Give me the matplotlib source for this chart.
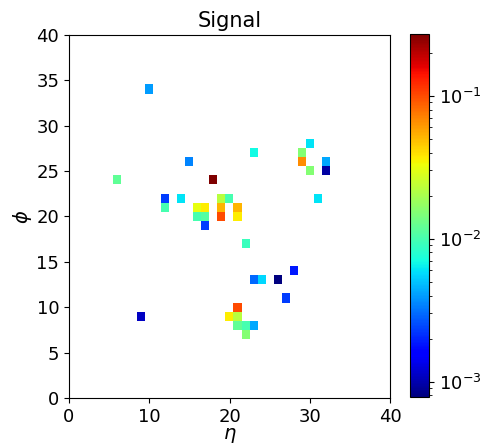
import numpy as np
import matplotlib
matplotlib.use("Agg")
import matplotlib.pyplot as plt
from matplotlib.colors import LogNorm

# cell positions (eta, phi) and signal values
eta = [10, 15, 6, 18, 12, 14, 19, 20,
       16, 17, 19, 21, 12,
       16, 17, 19, 21,
       17, 9, 20, 21, 21, 21, 22, 23, 22,
       22, 23, 24, 26, 28, 27, 31,
       30, 23, 29, 29, 32, 32, 30]
phi = [34, 26, 24, 24, 22, 22, 22, 22,
       21, 21, 21, 21, 21,
       20, 20, 20, 20,
       19, 9, 9, 9, 10, 8, 8, 8, 7,
       17, 13, 13, 13, 14, 11, 22,
       28, 27, 27, 26, 26, 25, 25]
signal = [0.004, 0.0035, 0.012, 0.27, 0.0023, 0.006, 0.022, 0.010,
          0.031, 0.037, 0.052, 0.052, 0.010,
          0.010, 0.011, 0.10, 0.037,
          0.0023, 0.0011, 0.037, 0.022, 0.10, 0.012, 0.010, 0.0043, 0.0155,
          0.0091, 0.003, 0.0056, 0.00078, 0.0019, 0.0023, 0.006,
          0.006, 0.0069, 0.0155, 0.066, 0.0043, 0.00095, 0.0155]

grid = np.zeros((40, 40))
for e, p, s in zip(eta, phi, signal):
    grid[p, e] = s
grid = np.ma.masked_where(grid <= 0, grid)

fig = plt.figure(figsize=(4.82, 4.46), dpi=100)
ax = fig.add_axes([69 / 482, 48 / 446, 321 / 482, 363 / 446])
cax = fig.add_axes([410 / 482, 49 / 446, 19 / 482, 363 / 446])

im = ax.imshow(grid, origin="lower", cmap="jet", norm=LogNorm(),
               extent=(-0.5, 39.5, -0.5, 39.5), aspect="auto",
               interpolation="nearest")
ax.set_xlim(0, 40)
ax.set_ylim(0, 40)
ax.set_xticks(range(0, 41, 10))
ax.set_yticks(range(0, 41, 5))
ax.tick_params(labelsize=13)
ax.set_xlabel(r"$\eta$", fontsize=14, labelpad=0)
ax.set_ylabel(r"$\phi$", fontsize=14, labelpad=2)
ax.set_title("Signal", fontsize=15, pad=6)

cb = fig.colorbar(im, cax=cax)
cb.ax.tick_params(labelsize=13)

fig.savefig("out.png", dpi=100)
